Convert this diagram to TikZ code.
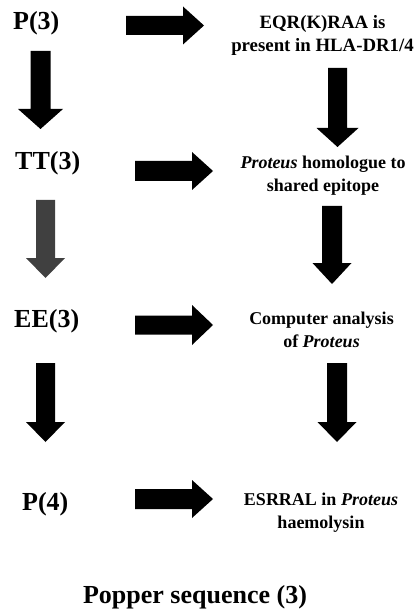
\documentclass[tikz,border=0pt]{standalone}
\usepackage{fontspec}
\setmainfont{Liberation Serif}
\begin{document}
\begin{tikzpicture}[x=1pt,y=-1pt,
  lefttxt/.style={font=\fontsize{26}{30}\selectfont\bfseries, anchor=base west, inner sep=0pt},
  righttxt/.style={font=\fontsize{18}{23}\selectfont\bfseries, align=center, anchor=base, inner sep=0pt},
  titletxt/.style={font=\fontsize{26}{30}\selectfont\bfseries, anchor=base, inner sep=0pt},
  blockfill/.style={fill=black},
  greyfill/.style={fill=black!75}]
\useasboundingbox (0,0) rectangle (415,609);

% block arrow pointing right: tail x, tip x, axis y, shaft half-width, head half-width, head length, style
\newcommand\rblock[7]{%
  \fill[#7] (#1,#3-#4) -- (#2-#6,#3-#4) -- (#2-#6,#3-#5) -- (#2,#3)
    -- (#2-#6,#3+#5) -- (#2-#6,#3+#4) -- (#1,#3+#4) -- cycle;}
% block arrow pointing down: axis x, tail y, tip y, shaft half-width, head half-width, head length, style
\newcommand\dblock[7]{%
  \fill[#7] (#1-#4,#2) -- (#1-#4,#3-#6) -- (#1-#5,#3-#6) -- (#1,#3)
    -- (#1+#5,#3-#6) -- (#1+#4,#3-#6) -- (#1+#4,#2) -- cycle;}

% left column
\node[lefttxt] (p3)  at (13,30)  {P(3)};
\node[lefttxt] (tt3) at (15,170) {TT(3)};
\node[lefttxt] (ee3) at (14,327) {EE(3)};
\node[lefttxt] (p4)  at (22,510) {P(4)};

% right column (base anchor sits on the last line)
\node[righttxt, font=\fontsize{18.8}{23.5}\selectfont\bfseries] (eqr) at (322.5,51.7)
  {EQR(K)RAA is\\present in HLA-DR1/4};
\node[righttxt] (hom) at (323,191.5) {\textit{Proteus} homologue to\\shared epitope};
\node[righttxt] (comp) at (321.5,347) {Computer analysis\\of \textit{Proteus}};
\node[righttxt] (esr) at (321,528.5) {ESRRAL in \textit{Proteus}\\haemolysin};

% caption
\node[titletxt] (cap) at (195,603) {Popper sequence (3)};

% horizontal arrows
\rblock{126}{204}{25.5}{9.5}{19}{21}{blockfill}
\rblock{135}{213}{171}{10}{19}{21}{blockfill}
\rblock{135}{213}{325}{9.5}{20}{21}{blockfill}
\rblock{135}{213}{499}{10}{19}{21}{blockfill}

% left vertical arrows
\dblock{40.5}{51}{129}{10}{22.5}{20}{blockfill}
\dblock{45.5}{200}{278}{9.5}{19.5}{20}{greyfill}
\dblock{45.5}{363}{442}{9.5}{19.5}{20}{blockfill}

% right vertical arrows
\dblock{337.5}{68}{147}{9.5}{21}{19}{blockfill}
\dblock{332}{206}{284}{10}{19.5}{21}{blockfill}
\dblock{337}{363}{442}{10}{19.5}{20}{blockfill}
\end{tikzpicture}
\end{document}
